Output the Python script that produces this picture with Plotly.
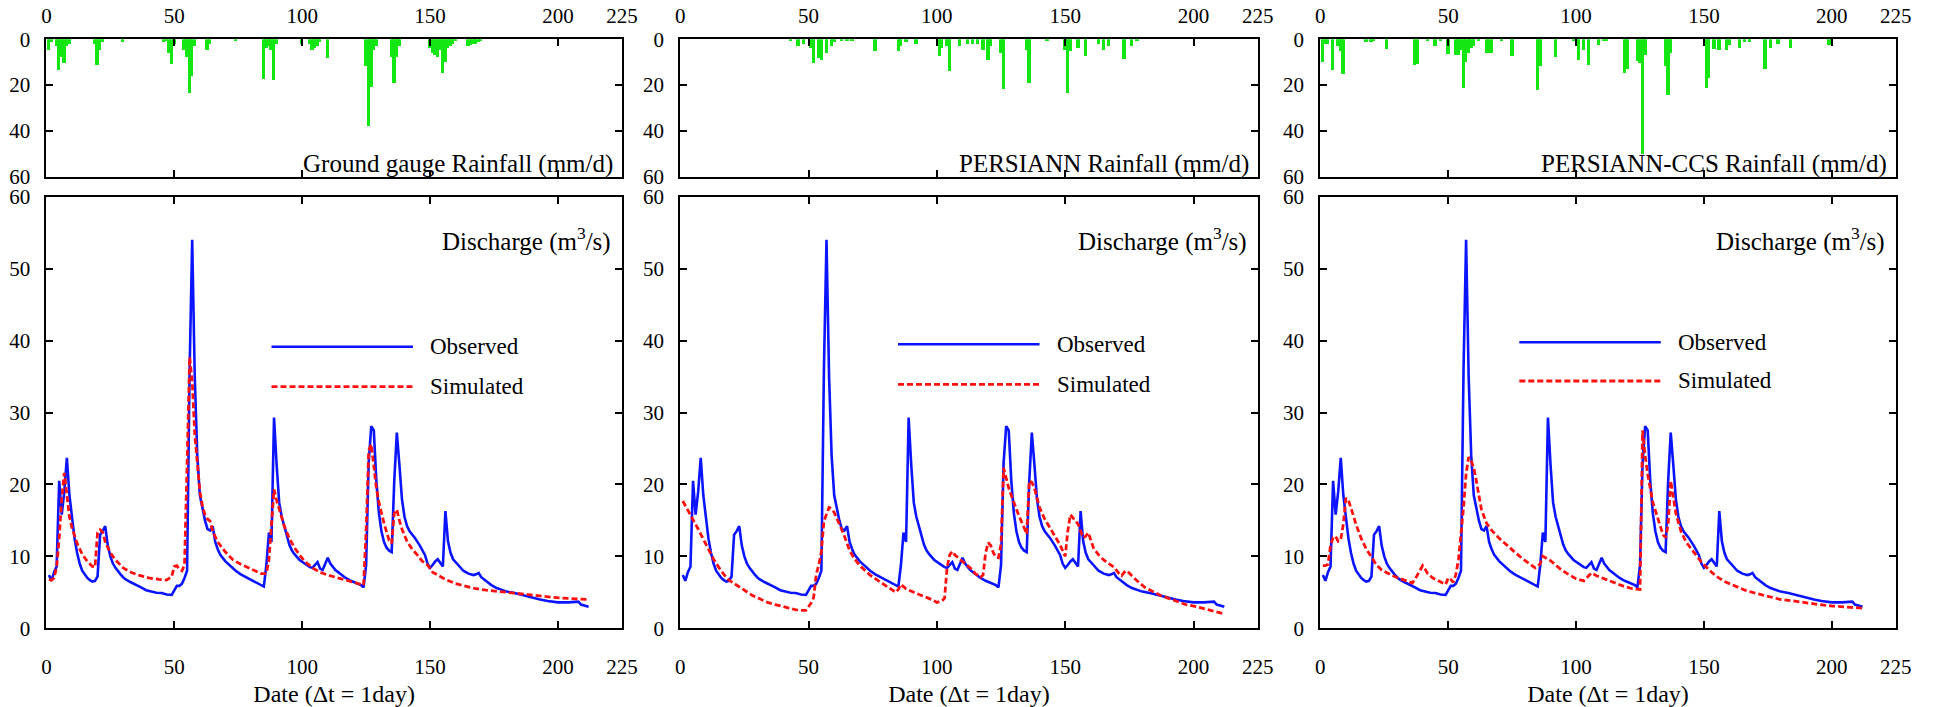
import plotly.graph_objects as go

# ---------------- data ----------------
obs_day = [1, 2, 3, 4, 5, 6, 7, 8, 9, 10, 11, 12, 13, 14, 15, 16, 17, 18, 19, 20,
           21, 22, 23, 24, 25, 26, 27, 28, 29, 30, 31, 33, 35, 37, 39, 41, 43, 45, 47, 49,
           50, 51, 52, 53, 54, 55, 56, 57, 58, 59, 60, 61, 62, 63, 64, 65, 66, 67, 68, 70,
           72, 74, 76, 78, 80, 82, 84, 85, 86, 87, 88, 89, 90, 91, 92, 93, 94, 95, 96, 97,
           99, 101, 103, 104, 106, 107, 108, 110, 111, 113, 115, 117, 119, 121, 123, 124, 125, 126, 127, 128,
           129, 130, 131, 132, 133, 134, 135, 136, 137, 138, 139, 140, 141, 142, 144, 146, 148, 149, 150, 151,
           152, 153, 154, 155, 156, 157, 158, 159, 161, 163, 165, 167, 168, 169, 170, 172, 174, 176, 178, 180,
           183, 185, 188, 190, 193, 196, 200, 204, 207, 208, 209, 211, 212]
obs_q = [7.4, 6.6, 7.8, 8.6, 20.5, 15.8, 19.0, 23.7, 18.5, 15.3, 12.5, 10.5, 9.0, 8.0, 7.4, 7.0, 6.7, 6.5, 6.6, 7.2,
         13.0, 13.5, 14.2, 11.5, 10.0, 9.0, 8.4, 7.9, 7.5, 7.1, 6.8, 6.4, 6.1, 5.7, 5.3, 5.1, 4.95, 4.9, 4.7, 4.65,
         5.3, 5.9, 5.9, 6.2, 7.0, 8.0, 36.0, 54.0, 35.0, 24.0, 18.5, 16.5, 15.0, 13.8, 13.6, 14.2, 12.0, 11.0, 10.2, 9.3,
         8.6, 8.0, 7.5, 7.1, 6.8, 6.4, 6.0, 5.8, 8.8, 13.3, 12.0, 29.3, 22.8, 17.5, 15.5, 14.2, 12.6, 11.6, 10.8, 10.3,
         9.5, 9.0, 8.5, 8.4, 9.2, 8.3, 8.1, 9.8, 9.0, 8.1, 7.5, 7.0, 6.6, 6.3, 6.0, 5.7, 8.8, 23.0, 28.1, 27.5,
         20.5, 16.0, 13.5, 12.0, 11.2, 10.8, 10.6, 20.5, 27.2, 22.8, 18.0, 15.5, 14.2, 13.5, 12.6, 11.5, 10.2, 9.0, 8.4, 8.8,
         9.3, 9.6, 9.0, 8.6, 16.3, 12.1, 10.5, 9.6, 8.8, 8.0, 7.6, 7.4, 7.5, 7.7, 7.1, 6.5, 6.0, 5.6, 5.3, 5.1,
         4.9, 4.7, 4.4, 4.2, 4.0, 3.8, 3.6, 3.6, 3.6, 3.7, 3.3, 3.1, 3.0]

gg_sim_day = [1, 2, 3, 4, 5, 6, 7, 8, 9, 10, 11, 12, 14, 16, 18, 19, 20, 21, 22, 23,
              25, 27, 30, 33, 36, 40, 44, 47, 49, 50, 51, 52, 53, 54, 55, 56, 57, 58, 59, 60,
              61, 62, 63, 64, 65, 67, 70, 73, 76, 80, 84, 86, 87, 88, 89, 90, 91, 93, 95, 97,
              99, 101, 104, 107, 110, 113, 116, 119, 122, 124, 125, 126, 127, 128, 129, 130, 132, 134, 135, 136,
              137, 138, 139, 141, 143, 145, 147, 149, 151, 154, 156, 160, 164, 168, 172, 176, 180, 184, 189, 194,
              198, 202, 207, 212]
gg_sim_q = [6.8, 6.7, 7.0, 8.5, 12.5, 18.1, 21.6, 18.5, 15.5, 14.0, 12.8, 11.8, 10.3, 9.3, 8.6, 8.5, 13.3, 13.7, 13.4, 12.0,
            10.5, 9.5, 8.4, 7.8, 7.4, 7.0, 6.8, 6.7, 7.2, 8.6, 8.7, 8.2, 8.0, 8.8, 22.8, 37.7, 34.4, 27.0, 23.0, 19.0,
            17.0, 15.8, 15.2, 14.9, 13.5, 12.0, 10.6, 9.5, 8.9, 8.2, 7.6, 7.6, 9.5, 14.4, 19.3, 17.8, 16.5, 14.2, 12.5, 11.2,
            10.2, 9.3, 8.4, 7.8, 7.4, 7.1, 6.8, 6.5, 6.2, 6.0, 13.5, 24.7, 25.6, 22.5, 19.5, 17.5, 14.6, 12.2, 11.8, 16.0,
            16.5, 15.0, 13.8, 12.1, 11.0, 10.2, 9.3, 8.8, 7.8, 7.2, 6.8, 6.2, 5.8, 5.5, 5.3, 5.2, 5.0, 4.85, 4.65, 4.4,
            4.3, 4.2, 4.1, 4.0]

per_sim_day = [1, 3, 5, 7, 9, 11, 13, 15, 17, 19, 22, 25, 28, 31, 34, 37, 40, 43, 46, 49,
               50, 51, 52, 53, 54, 55, 56, 57, 58, 59, 60, 62, 64, 66, 68, 70, 72, 74, 76, 78,
               80, 82, 84, 85, 86, 87, 88, 91, 94, 96, 98, 100, 102, 103, 104, 105, 106, 107, 109, 111,
               113, 115, 117, 118, 119, 120, 121, 122, 123, 124, 125, 126, 127, 128, 130, 132, 134, 135, 136, 137,
               138, 140, 142, 144, 146, 148, 150, 151, 152, 153, 155, 157, 158, 159, 161, 163, 165, 167, 169, 171,
               172, 173, 174, 176, 178, 181, 184, 187, 190, 193, 197, 201, 205, 209, 212]
per_sim_q = [17.7, 16.3, 15.1, 13.8, 12.4, 10.8, 9.6, 8.5, 7.5, 6.7, 6.0, 5.3, 4.6, 4.1, 3.6, 3.3, 3.0, 2.7, 2.5, 2.5,
             3.0, 3.5, 4.3, 7.5, 8.8, 10.7, 14.9, 16.0, 16.8, 16.6, 16.1, 14.5, 12.8, 10.8, 9.6, 8.7, 8.0, 7.4, 6.9, 6.4,
             5.9, 5.4, 5.0, 5.4, 6.1, 5.8, 5.5, 5.0, 4.6, 4.3, 4.0, 3.6, 3.8, 4.2, 8.5, 10.2, 10.7, 10.2, 9.6, 9.0,
             8.4, 7.6, 7.1, 7.4, 10.5, 11.9, 11.5, 10.5, 9.9, 9.8, 11.7, 22.3, 21.0, 19.5, 17.5, 15.6, 14.0, 13.1, 20.5, 20.3,
             19.5, 16.8, 15.2, 14.0, 12.9, 11.6, 10.0, 13.5, 15.8, 15.4, 14.5, 12.6, 12.8, 13.3, 11.2, 10.2, 9.5, 9.0, 8.5, 7.6,
             7.3, 7.8, 8.0, 7.3, 6.6, 5.7, 5.1, 4.6, 4.2, 3.8, 3.3, 3.0, 2.6, 2.2, 2.0]

ccs_sim_day = [1, 2, 3, 4, 5, 6, 7, 8, 9, 10, 11, 12, 13, 14, 16, 18, 20, 22, 24, 26,
               29, 32, 35, 36, 37, 38, 39, 40, 41, 42, 44, 46, 48, 49, 50, 51, 52, 53, 54, 55,
               56, 57, 58, 59, 60, 61, 62, 63, 65, 67, 70, 73, 76, 79, 82, 84, 85, 86, 87, 88,
               90, 92, 94, 97, 100, 103, 104, 106, 108, 110, 113, 116, 119, 122, 125, 126, 127, 128, 130, 132,
               134, 135, 136, 137, 138, 139, 141, 143, 146, 149, 152, 155, 158, 162, 166, 170, 175, 180, 185, 190,
               195, 200, 205, 212]
ccs_sim_q = [8.7, 8.7, 8.9, 11.5, 12.6, 12.8, 12.1, 12.3, 14.5, 18.1, 17.8, 16.8, 15.6, 14.4, 12.5, 11.0, 9.8, 8.8, 8.1, 7.7,
             7.2, 6.8, 6.4, 6.3, 6.8, 7.4, 8.0, 8.7, 8.2, 7.6, 7.0, 6.6, 6.2, 6.1, 7.0, 6.8, 6.4, 7.5, 9.5, 13.0,
             16.8, 21.5, 23.8, 23.3, 22.3, 20.5, 18.3, 16.5, 14.6, 13.6, 12.5, 11.5, 10.6, 9.7, 8.9, 8.4, 8.6, 9.0, 10.0, 9.8,
             9.4, 8.8, 8.2, 7.5, 6.9, 6.6, 7.0, 7.7, 7.3, 7.0, 6.6, 6.2, 5.8, 5.5, 5.4, 27.5, 24.0, 21.4, 17.5, 15.4,
             13.0, 12.6, 14.4, 20.5, 18.0, 16.0, 13.5, 12.0, 10.6, 9.2, 8.1, 7.2, 6.5, 5.9, 5.3, 4.9, 4.4, 4.0, 3.8, 3.5,
             3.3, 3.1, 3.0, 2.8]

gg_rain_day = [1, 2, 4, 5, 6, 7, 8, 9, 19, 20, 21, 22, 30, 46, 47, 48, 49, 50, 54, 55,
               56, 57, 58, 63, 64, 74, 85, 86, 87, 88, 89, 90, 100, 103, 104, 105, 106, 107, 110, 125,
               126, 127, 128, 129, 135, 136, 137, 138, 150, 151, 152, 153, 154, 155, 156, 157, 158, 159, 160, 165,
               166, 167, 168, 169, 170]
gg_rain_mm = [5.0, 1.5, 3.0, 13.7, 8.0, 10.5, 3.0, 2.0, 2.0, 11.2, 5.0, 1.5, 1.5, 1.5, 1.0, 6.0, 11.0, 2.0, 5.0, 8.0,
              23.6, 16.0, 3.0, 4.7, 2.0, 1.0, 17.5, 4.0, 3.0, 5.0, 18.0, 2.0, 2.0, 2.0, 5.0, 4.0, 3.0, 1.5, 8.3, 12.0,
              38.0, 21.0, 5.0, 3.0, 8.0, 19.0, 8.0, 3.0, 4.0, 6.0, 7.0, 8.0, 5.0, 15.0, 10.0, 4.0, 3.0, 2.0, 1.0, 3.0,
              2.5, 2.0, 2.0, 1.5, 1.0]

per_rain_day = [43, 46, 48, 51, 52, 54, 55, 57, 59, 60, 63, 65, 67, 76, 85, 86, 88, 92, 101, 102,
                104, 105, 109, 112, 114, 116, 118, 120, 121, 125, 126, 135, 136, 143, 150, 151, 152, 155, 158, 163,
                165, 167, 173, 176, 178]
per_rain_mm = [1.0, 3.2, 2.0, 4.0, 10.5, 8.3, 9.0, 6.0, 3.2, 1.5, 1.0, 1.0, 1.0, 5.4, 5.4, 3.0, 1.5, 2.0, 7.6, 4.0,
               3.0, 14.0, 3.2, 2.0, 2.0, 2.0, 4.7, 9.0, 3.0, 6.0, 21.8, 4.7, 19.0, 1.0, 5.0, 23.6, 5.4, 4.0, 7.6, 2.0,
               4.7, 3.0, 8.7, 3.0, 1.0]

ccs_rain_day = [1, 2, 3, 5, 7, 8, 9, 18, 20, 21, 26, 37, 38, 42, 45, 47, 50, 53, 54, 55,
                56, 57, 58, 59, 60, 62, 65, 66, 67, 71, 75, 85, 86, 92, 99, 101, 103, 105, 109, 111,
                112, 119, 120, 124, 125, 126, 127, 135, 136, 137, 151, 152, 154, 156, 159, 160, 164, 166, 168, 174,
                176, 179, 184, 199, 200]
ccs_rain_mm = [10.0, 2.0, 2.0, 13.7, 3.2, 5.4, 15.1, 1.5, 1.5, 1.0, 4.4, 11.2, 11.0, 1.0, 3.0, 1.0, 6.4, 7.0, 6.8, 5.0,
               21.4, 10.0, 6.0, 4.0, 3.0, 1.0, 6.0, 6.0, 6.0, 1.0, 7.3, 22.4, 12.0, 7.9, 1.0, 9.0, 4.7, 11.2, 2.5, 1.0,
               1.0, 14.8, 13.0, 9.7, 10.5, 50.2, 6.8, 12.0, 24.3, 6.0, 21.4, 17.0, 4.4, 4.7, 4.7, 2.5, 4.0, 1.5, 1.5, 13.0,
               4.0, 2.0, 4.0, 2.5, 2.5]

rain_titles = ["Ground gauge Rainfall (mm/d)", "PERSIANN Rainfall (mm/d)", "PERSIANN-CCS Rainfall (mm/d)"]
x_ticks = [0, 50, 100, 150, 200, 225]
q_ticks = [0, 10, 20, 30, 40, 50, 60]
rain_ticks = [0, 20, 40, 60]

# ---------------- layout geometry (pixels) ----------------
W, H = 1933, 707
FONT = "Liberation Serif"
panels = [
    dict(left=46.4, right=621.9, leg_x0=271.5, leg_obs_y=346.7, leg_sim_y=386.7),
    dict(left=680.2, right=1257.7, leg_x0=898.0, leg_obs_y=344.3, leg_sim_y=384.3),
    dict(left=1320.3, right=1895.8, leg_x0=1519.3, leg_obs_y=342.3, leg_sim_y=381.0),
]
RAIN_TOP, RAIN_BOT = 39.3, 176.7
Q_TOP, Q_BOT = 196.7, 628.3


def fx(px):
    return px / W


def fy(py):
    return 1 - py / H


rain = [(gg_rain_day, gg_rain_mm), (per_rain_day, per_rain_mm), (ccs_rain_day, ccs_rain_mm)]
sims = [(gg_sim_day, gg_sim_q), (per_sim_day, per_sim_q), (ccs_sim_day, ccs_sim_q)]

fig = go.Figure()
BLUE = "#0a14ff"
RED = "#ff1010"
GREEN = "#14e614"

axis_common = dict(showline=True, linecolor="black", linewidth=2, mirror="ticks",
                   ticks="inside", ticklen=7, tickwidth=2, tickcolor="black",
                   showgrid=False, zeroline=False, automargin=False,
                   tickfont=dict(family=FONT, size=21, color="black"))

annotations = []
shapes = []
for i, p in enumerate(panels):
    k = 2 * i + 1   # rain axes index
    m = 2 * i + 2   # discharge axes index
    xs_r = "x" if k == 1 else f"x{k}"
    ys_r = "y" if k == 1 else f"y{k}"
    xs_q = f"x{m}"
    ys_q = f"y{m}"

    fig.add_trace(go.Bar(x=rain[i][0], y=rain[i][1], width=1.3, marker=dict(color=GREEN, line=dict(width=0)),
                         xaxis=xs_r, yaxis=ys_r, showlegend=False, name=rain_titles[i]))
    fig.add_trace(go.Scatter(x=obs_day, y=obs_q, mode="lines", line=dict(color=BLUE, width=2.6),
                             xaxis=xs_q, yaxis=ys_q, showlegend=False, name="Observed"))
    fig.add_trace(go.Scatter(x=sims[i][0], y=sims[i][1], mode="lines",
                             line=dict(color=RED, width=2.8, dash="6px,3px"),
                             xaxis=xs_q, yaxis=ys_q, showlegend=False, name="Simulated"))

    dom_x = [fx(p["left"]), fx(p["right"])]
    kx = "xaxis" if k == 1 else f"xaxis{k}"
    ky = "yaxis" if k == 1 else f"yaxis{k}"
    fig.layout[kx] = dict(axis_common, domain=dom_x, range=[0, 225], tickvals=x_ticks, side="top",
                          anchor=ys_r, ticklabelstandoff=6)
    fig.layout[ky] = dict(axis_common, domain=[fy(RAIN_BOT), fy(RAIN_TOP)], range=[60, 0],
                          tickvals=rain_ticks, anchor=xs_r, ticklabelstandoff=10)
    fig.layout[f"xaxis{m}"] = dict(axis_common, domain=dom_x, range=[0, 225], tickvals=x_ticks,
                                   anchor=ys_q, ticklabelstandoff=18,
                                   title=dict(text="Date (\u0394t = 1day)", standoff=12,
                                              font=dict(family=FONT, size=24, color="black")))
    fig.layout[f"yaxis{m}"] = dict(axis_common, domain=[fy(Q_BOT), fy(Q_TOP)], range=[0, 60],
                                   tickvals=q_ticks, anchor=xs_q, ticklabelstandoff=10)

    # panel labels
    annotations.append(dict(text=rain_titles[i], xref="paper", yref="paper",
                            x=fx(p["right"] - 7), y=fy(164), xanchor="right", yanchor="middle",
                            showarrow=False, font=dict(family=FONT, size=25, color="black")))
    annotations.append(dict(text="Discharge (m<sup>3</sup>/s)", xref="paper", yref="paper",
                            x=fx(p["right"] - 9), y=fy(240), xanchor="right", yanchor="middle",
                            showarrow=False, font=dict(family=FONT, size=25, color="black")))
    # legend
    x0, x1 = p["leg_x0"], p["leg_x0"] + 141.5
    shapes.append(dict(type="line", xref="paper", yref="paper", x0=fx(x0), x1=fx(x1),
                       y0=fy(p["leg_obs_y"]), y1=fy(p["leg_obs_y"]), line=dict(color=BLUE, width=2.6)))
    shapes.append(dict(type="line", xref="paper", yref="paper", x0=fx(x0), x1=fx(x1),
                       y0=fy(p["leg_sim_y"]), y1=fy(p["leg_sim_y"]),
                       line=dict(color=RED, width=2.8, dash="6px,3px")))
    annotations.append(dict(text="Observed", xref="paper", yref="paper", x=fx(x1 + 15),
                            y=fy(p["leg_obs_y"]), xanchor="left", yanchor="middle", showarrow=False,
                            font=dict(family=FONT, size=23, color="black")))
    annotations.append(dict(text="Simulated", xref="paper", yref="paper", x=fx(x1 + 15),
                            y=fy(p["leg_sim_y"]), xanchor="left", yanchor="middle", showarrow=False,
                            font=dict(family=FONT, size=23, color="black")))

fig.update_layout(width=W, height=H, autosize=False, margin=dict(l=0, r=0, t=0, b=0, autoexpand=False),
                  paper_bgcolor="white", plot_bgcolor="white", bargap=0,
                  annotations=annotations, shapes=shapes, showlegend=False)

fig.write_html("out.html", config={"displayModeBar": False},
               post_script="document.body.style.margin='0';document.body.style.overflow='hidden';")
